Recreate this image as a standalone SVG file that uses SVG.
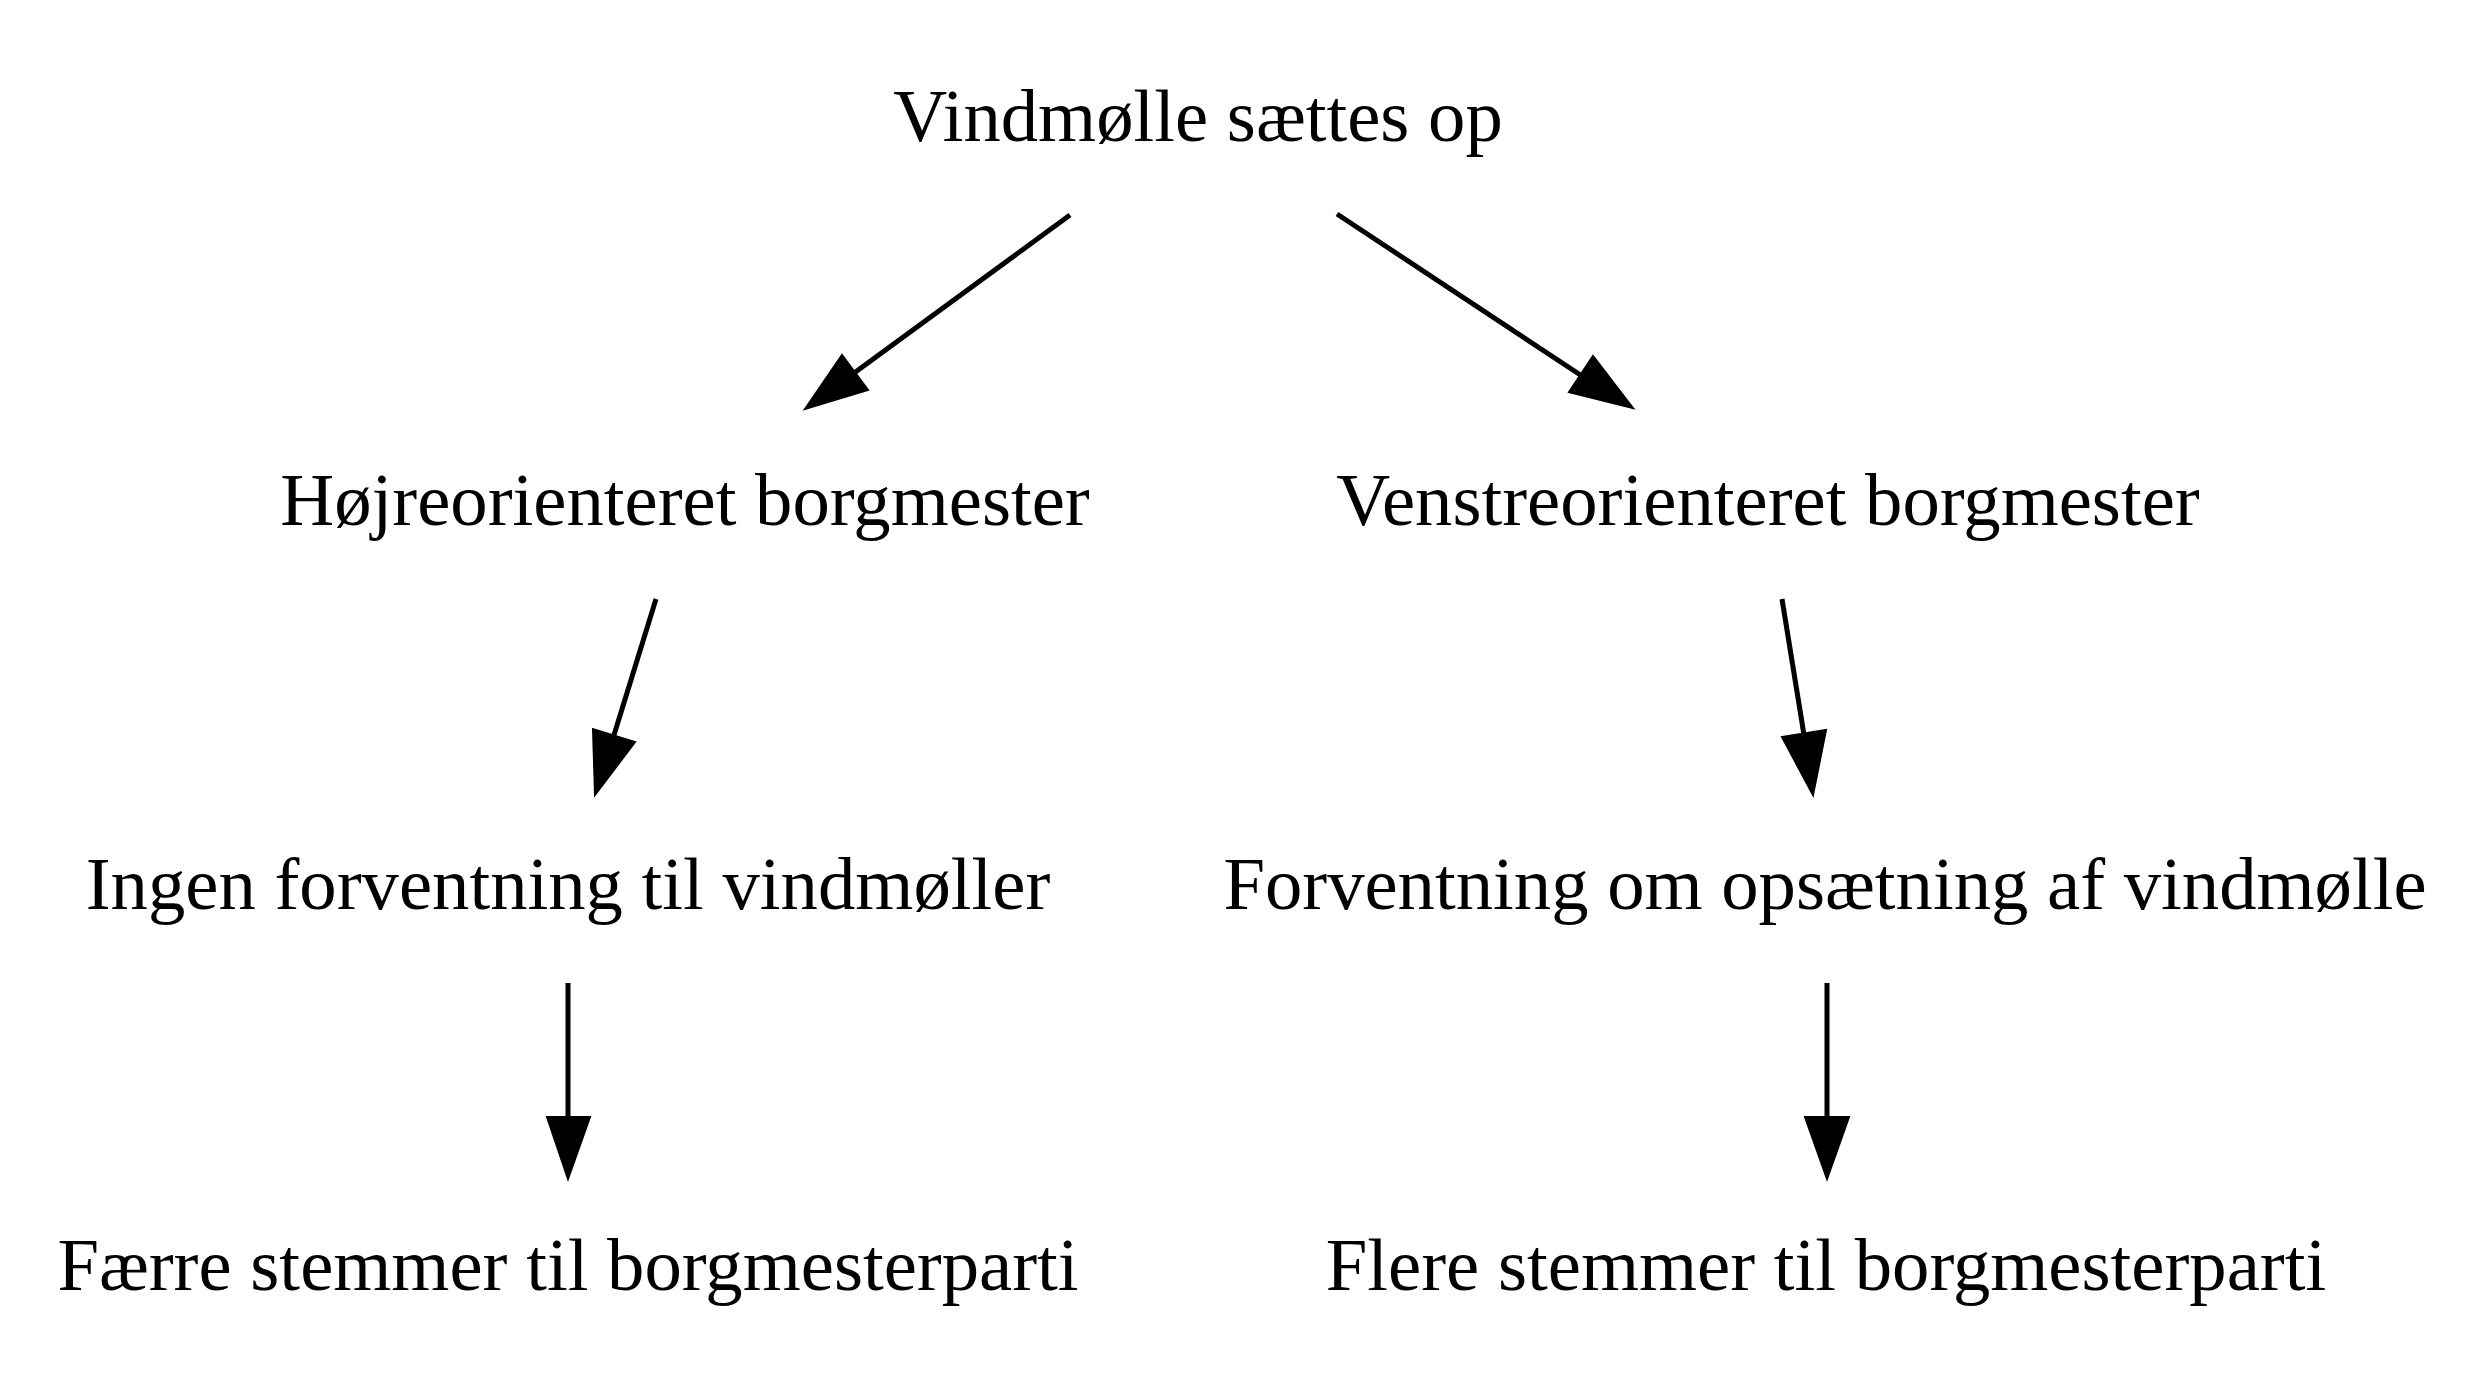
<svg xmlns="http://www.w3.org/2000/svg" width="2484" height="1384" viewBox="0 0 2484 1384">
<style>
.lbl{font-family:"Liberation Serif","Times New Roman",serif;font-size:74.7px;fill:#000;text-anchor:middle}
.edge{stroke:#000;stroke-width:5;fill:none}
.head{fill:#000;stroke:#000;stroke-width:2}
</style>
<rect width="2484" height="1384" fill="#fff"/>
<g id="connectors">
<g id="e1"><line class="edge" x1="1070" y1="215" x2="850" y2="376"/><polygon class="head" points="805,409 842,355 868,390"/></g>
<g id="e2"><line class="edge" x1="1337" y1="214" x2="1585" y2="378"/><polygon class="head" points="1633,408 1593,356 1569,392"/></g>
<g id="e3"><line class="edge" x1="656" y1="599" x2="614" y2="735"/><polygon class="head" points="595,795 593,729 635,742"/></g>
<g id="e4"><line class="edge" x1="1782" y1="599" x2="1804" y2="735"/><polygon class="head" points="1813,795 1782,737 1826,730"/></g>
<g id="e5"><line class="edge" x1="568" y1="983" x2="568" y2="1120"/><polygon class="head" points="568,1179 547,1117 590,1117"/></g>
<g id="e6"><line class="edge" x1="1827" y1="983" x2="1827" y2="1120"/><polygon class="head" points="1827,1179 1805,1117 1849,1117"/></g>
</g>
<g id="n1"><text class="lbl" x="1198" y="141">Vindmølle sættes op</text></g>
<g id="n2"><text class="lbl" x="685" y="525">Højreorienteret borgmester</text></g>
<g id="n3"><text class="lbl" x="1768" y="525">Venstreorienteret borgmester</text></g>
<g id="n4"><text class="lbl" x="568" y="909">Ingen forventning til vindmøller</text></g>
<g id="n5"><text class="lbl" x="1825" y="909">Forventning om opsætning af vindmølle</text></g>
<g id="n6"><text class="lbl" x="568" y="1290">Færre stemmer til borgmesterparti</text></g>
<g id="n7"><text class="lbl" x="1826" y="1290">Flere stemmer til borgmesterparti</text></g>
</svg>
